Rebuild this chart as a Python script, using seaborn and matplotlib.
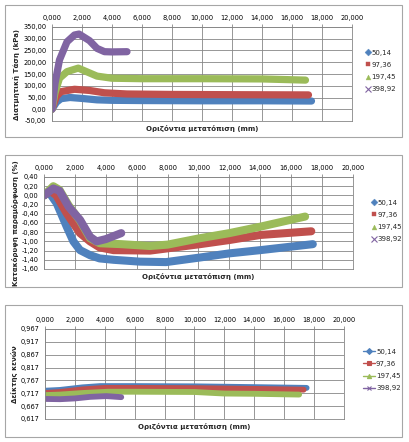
import matplotlib
matplotlib.use('Agg')
import matplotlib.pyplot as plt
import matplotlib.patches as mpatches
from matplotlib.lines import Line2D
from matplotlib.ticker import FuncFormatter
import seaborn as sns
import pandas as pd

sns.set_style('white')
plt.rcParams['font.family'] = ['DejaVu Sans']
plt.rcParams['font.size'] = 5

# Series (normal stress, kPa)
labels = ['50,14', '97,36', '197,45', '398,92']
colors = ['#4F81BD', '#C0504D', '#9BBB59', '#8064A2']
markers = ['D', 's', '^', 'x']

x_label = 'Οριζόντια μετατόπιση (mm)'

# Panel 1: shear stress (kPa) vs horizontal displacement (mm)
tau_x_50 = [0.0, 0.3, 0.6, 1.2, 2.0, 3.0, 4.0, 6.0, 10.0, 14.0, 17.3]
tau_y_50 = [0, 30, 45, 50, 46, 40, 38, 37, 36, 36, 35]
tau_x_97 = [0.0, 0.3, 0.6, 1.5, 2.5, 3.5, 5.0, 8.0, 12.0, 17.1]
tau_y_97 = [0, 55, 75, 85, 80, 70, 65, 63, 62, 61]
tau_x_197 = [0.0, 0.2, 0.5, 1.0, 1.75, 3.0, 4.0, 6.0, 10.0, 14.0, 16.9]
tau_y_197 = [0, 70, 132, 160, 175, 141, 132, 130, 130, 129, 124]
tau_x_398 = [0.0, 0.2, 0.5, 1.0, 1.5, 1.8, 2.5, 3.0, 3.5, 4.0, 5.0]
tau_y_398 = [0, 110, 210, 287, 316, 320, 292, 259, 245, 244, 245]

# Panel 2: vertical strain (%) vs horizontal displacement (mm)
ev_x_50 = [0.0, 0.3, 0.82, 1.47, 1.9, 2.33, 2.98, 3.6, 4.5, 6.2, 7.9, 10.1, 12.0, 14.0, 17.4]
ev_y_50 = [0.0, 0.08, -0.17, -0.68, -1.0, -1.19, -1.30, -1.37, -1.40, -1.44, -1.45, -1.35, -1.26, -1.19, -1.06]
ev_x_97 = [0.0, 0.4, 0.8, 1.47, 2.33, 2.98, 3.6, 4.5, 6.86, 10.1, 12.0, 14.0, 17.3]
ev_y_97 = [0.0, 0.10, 0.0, -0.39, -0.82, -1.0, -1.13, -1.19, -1.20, -1.06, -0.97, -0.86, -0.78]
ev_x_197 = [0.0, 0.6, 1.0, 1.6, 2.33, 2.98, 3.6, 5.0, 6.86, 8.0, 10.1, 12.0, 14.0, 16.9]
ev_y_197 = [0.0, 0.20, 0.12, -0.22, -0.55, -0.93, -1.04, -1.06, -1.10, -1.07, -0.93, -0.82, -0.68, -0.46]
ev_x_398 = [0.0, 0.6, 1.0, 1.6, 2.33, 2.98, 3.4, 4.0, 5.0]
ev_y_398 = [0.0, 0.15, 0.10, -0.25, -0.53, -0.90, -1.00, -0.95, -0.82]

# Panel 3: void ratio vs horizontal displacement (mm)
e_x_50 = [0.0, 1.0, 2.5, 3.7, 6.0, 10.0, 14.0, 17.5]
e_y_50 = [0.727, 0.730, 0.740, 0.745, 0.745, 0.744, 0.741, 0.738]
e_x_97 = [0.0, 1.0, 2.5, 4.0, 6.0, 10.0, 14.0, 17.3]
e_y_97 = [0.718, 0.722, 0.732, 0.738, 0.738, 0.737, 0.734, 0.731]
e_x_197 = [0.0, 1.0, 2.5, 4.2, 6.0, 10.0, 12.0, 14.0, 17.0]
e_y_197 = [0.710, 0.712, 0.718, 0.723, 0.723, 0.722, 0.716, 0.715, 0.712]
e_x_398 = [0.0, 1.0, 2.0, 3.0, 4.1, 5.1]
e_y_398 = [0.695, 0.694, 0.697, 0.703, 0.706, 0.702]


def to_frame(xs, ys):
    rows = []
    for lab, x, y in zip(labels, xs, ys):
        for a, b in zip(x, y):
            rows.append({'x': a, 'y': b, 'series': lab})
    return pd.DataFrame(rows)


panels = [
    dict(df=to_frame([tau_x_50, tau_x_97, tau_x_197, tau_x_398],
                     [tau_y_50, tau_y_97, tau_y_197, tau_y_398]),
         box=(5, 5, 402, 137), area=(52, 27, 352, 121),
         ylim=(-50, 350), ystep=50, yfmt='{:.2f}', lw=5.2,
         ylabel='Διατμητική Τάση (kPa)', leg_y=71, leg_x=362, lines=False),
    dict(df=to_frame([ev_x_50, ev_x_97, ev_x_197, ev_x_398],
                     [ev_y_50, ev_y_97, ev_y_197, ev_y_398]),
         box=(5, 155, 402, 287), area=(44, 177, 353, 269),
         ylim=(-1.6, 0.4), ystep=0.2, yfmt='{:.2f}', lw=5.8,
         ylabel='Κατακόρυφη παραμόρφωση (%)', leg_y=221, leg_x=368, lines=False),
    dict(df=to_frame([e_x_50, e_x_97, e_x_197, e_x_398],
                     [e_y_50, e_y_97, e_y_197, e_y_398]),
         box=(5, 305, 402, 437), area=(45, 329, 344, 419),
         ylim=(0.617, 0.967), ystep=0.05, yfmt='{:.3f}', lw=4.2,
         ylabel='Δείκτης κενών', leg_y=370, leg_x=360, lines=True),
]

W, H = 410, 442
fig = plt.figure(figsize=(W / 100, H / 100), dpi=100)
fig.patch.set_facecolor('white')

for p in panels:
    bx0, by0, bx1, by1 = p['box']
    fig.patches.append(mpatches.Rectangle((bx0 / W, 1 - by1 / H), (bx1 - bx0) / W, (by1 - by0) / H,
                                          transform=fig.transFigure, fill=False,
                                          edgecolor='#A6A6A6', linewidth=0.8))
    ax0, ay0, ax1, ay1 = p['area']
    ax = fig.add_axes([ax0 / W, 1 - ay1 / H, (ax1 - ax0) / W, (ay1 - ay0) / H])

    sns.lineplot(data=p['df'], x='x', y='y', hue='series', palette=colors,
                 sort=False, estimator=None, linewidth=p['lw'], legend=False, ax=ax,
                 solid_capstyle='round', solid_joinstyle='round')

    ax.set_xlim(0, 20)
    ax.set_ylim(*p['ylim'])
    ax.set_xticks([i * 2 for i in range(11)])
    lo, hi = p['ylim']
    n = int(round((hi - lo) / p['ystep']))
    ax.set_yticks([lo + i * p['ystep'] for i in range(n + 1)])
    ax.xaxis.set_major_formatter(FuncFormatter(lambda v, pos: f'{v:.3f}'.replace('.', ',')))
    fmt = p['yfmt']
    ax.yaxis.set_major_formatter(FuncFormatter(lambda v, pos, fmt=fmt: fmt.format(v).replace('.', ',')))
    ax.xaxis.tick_top()
    ax.xaxis.set_label_position('bottom')
    ax.tick_params(axis='both', labelsize=4.8, length=2, width=0.6, color='#868686', pad=2,
                   labelcolor='#000000')
    ax.grid(True, color='#868686', linewidth=0.6)
    for s in ax.spines.values():
        s.set_color('#868686')
        s.set_linewidth(0.6)
    ax.set_xlabel(x_label, fontsize=5, fontweight='bold', labelpad=3)
    ax.set_ylabel(p['ylabel'], fontsize=5, fontweight='bold', labelpad=2)

    handles = []
    for c, m in zip(colors, markers):
        if p['lines']:
            handles.append(Line2D([], [], color=c, marker=m, markersize=3, linewidth=1,
                                  markeredgewidth=0.8))
        else:
            handles.append(Line2D([], [], color=c, marker=m, markersize=3.5 if m != 'x' else 4,
                                  linestyle='none', markeredgewidth=0.8 if m == 'x' else 0.3))
    ax.legend(handles, labels, loc='center left',
              bbox_to_anchor=(p['leg_x'] / W, 1 - p['leg_y'] / H),
              bbox_transform=fig.transFigure, frameon=False, fontsize=5,
              handlelength=1.6 if p['lines'] else 0.6, handletextpad=0.2,
              labelspacing=0.9, borderpad=0)

fig.savefig('out.png', dpi=100)
